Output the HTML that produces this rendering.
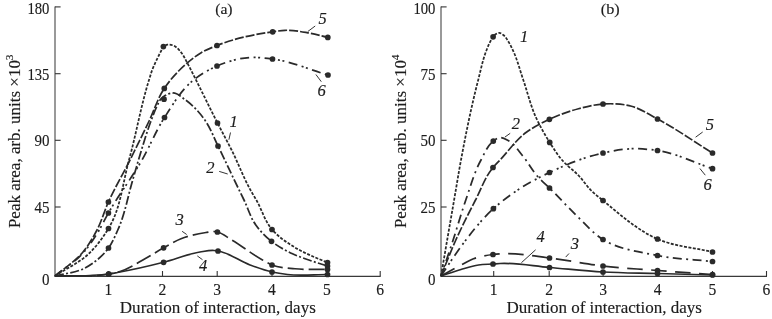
<!DOCTYPE html>
<html><head><meta charset="utf-8"><title>Figure</title>
<style>
html,body{margin:0;padding:0;background:#fff;}
svg{display:block}
text{font-family:"Liberation Serif","DejaVu Serif",serif;fill:#1c1c1c;stroke:#1c1c1c;stroke-width:0.15px;}
.t{font-size:16.7px}
.l{font-size:16.6px}
.p{font-size:15.2px}
.i{font-size:16.5px;font-style:italic}
</style></head><body>
<svg width="772" height="319" viewBox="0 0 772 319">
<rect width="772" height="319" fill="#fff"/>
<line x1="55" y1="6.6" x2="55" y2="276.8" stroke="#777" stroke-width="1.5"/>
<line x1="54.5" y1="276.3" x2="380.7" y2="276.3" stroke="#3a3a3a" stroke-width="1.25"/>
<line x1="55" y1="6.9" x2="60.6" y2="6.9" stroke="#333" stroke-width="1.1"/>
<line x1="55" y1="73.7" x2="60.6" y2="73.7" stroke="#333" stroke-width="1.1"/>
<line x1="55" y1="140.3" x2="60.6" y2="140.3" stroke="#333" stroke-width="1.1"/>
<line x1="55" y1="207.0" x2="60.6" y2="207.0" stroke="#333" stroke-width="1.1"/>
<line x1="108.4" y1="271" x2="108.4" y2="276.3" stroke="#333" stroke-width="1.1"/>
<line x1="162.5" y1="271" x2="162.5" y2="276.3" stroke="#333" stroke-width="1.1"/>
<line x1="217.2" y1="271" x2="217.2" y2="276.3" stroke="#333" stroke-width="1.1"/>
<line x1="272" y1="271" x2="272" y2="276.3" stroke="#333" stroke-width="1.1"/>
<line x1="326.8" y1="271" x2="326.8" y2="276.3" stroke="#333" stroke-width="1.1"/>
<line x1="380.2" y1="271" x2="380.2" y2="276.3" stroke="#333" stroke-width="1.1"/>
<text x="49.4" y="14.0" text-anchor="end" class="t" textLength="22.0" lengthAdjust="spacingAndGlyphs">180</text>
<text x="49.4" y="79.5" text-anchor="end" class="t" textLength="22.0" lengthAdjust="spacingAndGlyphs">135</text>
<text x="49.4" y="146.10000000000002" text-anchor="end" class="t" textLength="15.0" lengthAdjust="spacingAndGlyphs">90</text>
<text x="49.4" y="212.8" text-anchor="end" class="t" textLength="15.0" lengthAdjust="spacingAndGlyphs">45</text>
<text x="49.4" y="285.0" text-anchor="end" class="t" textLength="7.5" lengthAdjust="spacingAndGlyphs">0</text>
<text x="108.4" y="295.4" text-anchor="middle" class="t" textLength="7.8" lengthAdjust="spacingAndGlyphs">1</text>
<text x="162.5" y="295.4" text-anchor="middle" class="t" textLength="7.8" lengthAdjust="spacingAndGlyphs">2</text>
<text x="217.2" y="295.4" text-anchor="middle" class="t" textLength="7.8" lengthAdjust="spacingAndGlyphs">3</text>
<text x="272" y="295.4" text-anchor="middle" class="t" textLength="7.8" lengthAdjust="spacingAndGlyphs">4</text>
<text x="326.8" y="295.4" text-anchor="middle" class="t" textLength="7.8" lengthAdjust="spacingAndGlyphs">5</text>
<text x="380.2" y="295.4" text-anchor="middle" class="t" textLength="7.8" lengthAdjust="spacingAndGlyphs">6</text>
<text x="119.8" y="313.3" class="l" textLength="196.0" lengthAdjust="spacingAndGlyphs">Duration of interaction, days</text>
<text transform="translate(19.700000000000003,228.1) rotate(-90)" class="l" textLength="173.6" lengthAdjust="spacingAndGlyphs">Peak area, arb. units ×10<tspan dy="-7" font-size="11">3</tspan></text>
<path d="M55.00,276.00 C66.33,268.50 79.34,262.81 89.00,253.50 C96.51,246.26 103.07,237.38 108.50,228.50 C120.75,208.47 122.66,182.97 129.00,160.00 C136.32,133.51 140.82,106.23 149.00,80.00 C150.04,76.66 150.98,73.27 152.20,70.00 C154.05,65.03 156.45,60.26 158.80,55.50 C160.28,52.51 161.87,49.57 163.40,46.60 C164.77,45.97 166.07,44.96 167.50,44.70 C169.15,44.40 171.09,44.81 172.70,45.30 C176.42,46.43 179.32,50.18 181.80,53.30 C183.95,56.00 185.32,59.34 187.00,62.40 C190.18,68.17 193.02,74.13 196.00,80.00 C203.26,94.29 210.18,108.75 217.50,123.00 C222.14,132.03 227.04,140.93 231.60,150.00 C238.39,163.51 243.55,177.85 251.00,191.00 C252.71,194.03 254.56,196.98 256.30,200.00 C261.85,209.65 264.88,221.25 272.00,229.50 C278.22,236.71 286.71,242.49 295.00,247.50 C300.55,250.86 306.56,253.56 312.50,256.25 C317.43,258.49 322.50,260.42 327.50,262.50" fill="none" stroke="#2a2a2a" stroke-width="1.75" stroke-dasharray="3 1.5"/>
<path d="M55.00,276.00 C65.00,273.33 76.06,272.69 85.00,268.00 C93.88,263.34 102.55,256.16 108.50,248.00 C112.41,242.64 115.03,236.13 117.80,230.00 C124.94,214.21 127.82,196.69 132.70,180.00 C134.65,173.34 136.50,166.65 138.50,160.00 C142.43,146.93 146.19,133.77 151.00,121.00 C152.90,115.96 154.59,110.81 157.00,106.00 C158.23,103.55 159.17,100.78 161.00,98.80 C162.26,97.43 163.87,96.21 165.50,95.30 C167.77,94.03 170.65,93.01 173.10,93.00 C177.22,92.99 181.16,96.90 184.80,99.40 C189.54,102.65 193.83,106.73 197.70,111.00 C200.53,114.12 203.12,117.53 205.50,121.00 C210.74,128.65 213.88,137.64 218.00,146.00 C225.35,160.92 232.31,176.04 239.60,191.00 C241.06,194.00 242.54,196.99 244.00,200.00 C248.02,208.29 250.51,217.60 255.80,225.00 C260.13,231.06 265.66,236.63 271.50,241.30 C277.80,246.34 285.17,250.29 292.50,253.75 C298.91,256.78 305.76,258.95 312.50,261.25 C317.46,262.94 322.50,264.42 327.50,266.00" fill="none" stroke="#2a2a2a" stroke-width="1.75" stroke-dasharray="9 2.3 2 2.3"/>
<path d="M55.00,276.00 C64.33,268.00 75.27,261.39 83.00,252.00 C88.47,245.36 92.98,237.67 97.00,230.00 C101.66,221.11 104.28,211.19 108.40,202.00 C114.83,187.65 122.94,174.07 130.00,160.00 C136.49,147.06 142.87,134.07 149.10,121.00 C154.26,110.18 157.67,98.28 164.30,88.40 C168.45,82.21 173.35,76.34 178.60,71.00 C181.27,68.28 184.09,65.67 187.00,63.20 C191.48,59.39 196.15,55.67 201.20,52.70 C206.16,49.78 211.65,47.66 217.00,45.50 C234.67,38.35 253.79,34.51 272.70,31.80 C276.78,31.21 280.90,30.47 285.00,30.30 C292.59,29.99 300.28,31.50 307.80,32.80 C314.53,33.96 321.13,35.87 327.80,37.40" fill="none" stroke="#2a2a2a" stroke-width="1.7" stroke-dasharray="9 2"/>
<path d="M55.00,276.00 C64.67,268.00 75.83,261.38 84.00,252.00 C89.30,245.91 93.74,238.92 98.00,232.00 C101.78,225.86 104.83,219.27 108.40,213.00 C118.74,194.83 131.60,178.13 142.00,160.00 C149.97,146.11 155.84,130.92 164.50,117.50 C173.04,104.27 181.35,89.70 193.50,80.00 C200.51,74.40 208.72,69.60 217.00,66.00 C227.31,61.51 238.80,58.17 250.00,57.50 C257.41,57.05 265.08,58.06 272.50,59.00 C291.51,61.42 309.50,69.67 328.00,75.00" fill="none" stroke="#2a2a2a" stroke-width="1.75" stroke-dasharray="9 4.5 2 2.5 2 4.5"/>
<path d="M55.00,276.00 C72.90,275.33 91.14,277.30 108.70,274.00 C112.48,273.29 116.33,272.60 120.00,271.50 C128.90,268.83 136.82,263.28 145.00,258.75 C151.29,255.27 157.30,251.28 163.60,247.80 C169.32,244.64 174.97,241.15 181.00,238.75 C188.93,235.60 197.52,233.81 206.00,232.50 C208.65,232.09 211.34,231.33 214.00,231.50 C215.13,231.57 216.29,231.76 217.40,232.00 C222.42,233.07 226.52,236.91 231.00,239.50 C241.83,245.78 251.54,253.94 262.50,260.00 C265.63,261.73 268.72,263.68 272.00,265.00 C279.12,267.87 287.29,267.95 295.00,268.75 C305.75,269.87 316.67,269.25 327.50,269.50" fill="none" stroke="#2a2a2a" stroke-width="1.7" stroke-dasharray="16 5"/>
<path d="M55.00,276.00 C66.67,275.83 78.36,276.17 90.00,275.50 C96.24,275.14 102.51,274.87 108.70,274.00 C111.64,273.58 114.57,273.02 117.50,272.50 C132.99,269.74 148.36,266.19 163.60,262.30 C175.81,259.18 187.57,253.91 200.00,252.00 C204.63,251.29 209.34,250.16 214.00,250.50 C215.33,250.60 216.68,250.79 218.00,251.00 C229.46,252.78 239.08,261.02 250.00,265.00 C257.22,267.63 264.51,270.33 272.00,272.00 C277.09,273.14 282.31,273.90 287.50,274.50 C300.71,276.02 314.17,274.50 327.50,274.50" fill="none" stroke="#2a2a2a" stroke-width="1.7"/>
<circle cx="108.5" cy="228.5" r="2.85" fill="#2a2a2a"/>
<circle cx="163.4" cy="46.6" r="2.85" fill="#2a2a2a"/>
<circle cx="217.5" cy="123.0" r="2.85" fill="#2a2a2a"/>
<circle cx="272.0" cy="229.5" r="2.85" fill="#2a2a2a"/>
<circle cx="327.5" cy="262.5" r="2.85" fill="#2a2a2a"/>
<circle cx="108.5" cy="248.0" r="2.85" fill="#2a2a2a"/>
<circle cx="164.0" cy="99.2" r="2.85" fill="#2a2a2a"/>
<circle cx="218.0" cy="146.0" r="2.85" fill="#2a2a2a"/>
<circle cx="271.5" cy="241.3" r="2.85" fill="#2a2a2a"/>
<circle cx="327.5" cy="266.0" r="2.85" fill="#2a2a2a"/>
<circle cx="108.4" cy="202.0" r="2.85" fill="#2a2a2a"/>
<circle cx="164.3" cy="88.4" r="2.85" fill="#2a2a2a"/>
<circle cx="217.0" cy="45.5" r="2.85" fill="#2a2a2a"/>
<circle cx="272.7" cy="31.8" r="2.85" fill="#2a2a2a"/>
<circle cx="327.8" cy="37.4" r="2.85" fill="#2a2a2a"/>
<circle cx="108.4" cy="213.0" r="2.85" fill="#2a2a2a"/>
<circle cx="164.5" cy="117.5" r="2.85" fill="#2a2a2a"/>
<circle cx="217.0" cy="66.0" r="2.85" fill="#2a2a2a"/>
<circle cx="272.5" cy="59.0" r="2.85" fill="#2a2a2a"/>
<circle cx="328.0" cy="75.0" r="2.85" fill="#2a2a2a"/>
<circle cx="108.7" cy="274.0" r="2.85" fill="#2a2a2a"/>
<circle cx="163.6" cy="247.8" r="2.85" fill="#2a2a2a"/>
<circle cx="217.4" cy="232.0" r="2.85" fill="#2a2a2a"/>
<circle cx="272.0" cy="265.0" r="2.85" fill="#2a2a2a"/>
<circle cx="327.5" cy="269.5" r="2.85" fill="#2a2a2a"/>
<circle cx="108.7" cy="274.0" r="2.85" fill="#2a2a2a"/>
<circle cx="163.6" cy="262.3" r="2.85" fill="#2a2a2a"/>
<circle cx="218.0" cy="251.0" r="2.85" fill="#2a2a2a"/>
<circle cx="272.0" cy="272.0" r="2.85" fill="#2a2a2a"/>
<circle cx="327.5" cy="274.5" r="2.85" fill="#2a2a2a"/>
<text x="223.9" y="13.8" text-anchor="middle" class="p" textLength="17.4" lengthAdjust="spacingAndGlyphs">(a)</text>
<text x="318.5" y="23.8" class="i">5</text>
<line x1="315.2" y1="26" x2="307.8" y2="31.5" stroke="#2a2a2a" stroke-width="0.95"/>
<text x="317.5" y="95.5" class="i">6</text>
<line x1="315.9" y1="74.5" x2="321.3" y2="81.7" stroke="#2a2a2a" stroke-width="0.95"/>
<text x="229.5" y="126.6" class="i">1</text>
<line x1="230.5" y1="132.5" x2="228.9" y2="139.7" stroke="#2a2a2a" stroke-width="0.95"/>
<text x="206.3" y="172.9" class="i">2</text>
<line x1="219.2" y1="171.4" x2="227.7" y2="174" stroke="#2a2a2a" stroke-width="0.95"/>
<text x="175.5" y="225.3" class="i">3</text>
<line x1="182.1" y1="231.3" x2="186.7" y2="234.5" stroke="#2a2a2a" stroke-width="0.95"/>
<text x="199" y="271" class="i">4</text>
<line x1="197.3" y1="255.9" x2="202.5" y2="259.7" stroke="#2a2a2a" stroke-width="0.95"/>
<line x1="441" y1="6.6" x2="441" y2="276.8" stroke="#777" stroke-width="1.5"/>
<line x1="440.5" y1="276.3" x2="767.0" y2="276.3" stroke="#3a3a3a" stroke-width="1.25"/>
<line x1="441" y1="6.9" x2="446.6" y2="6.9" stroke="#333" stroke-width="1.1"/>
<line x1="441" y1="73.7" x2="446.6" y2="73.7" stroke="#333" stroke-width="1.1"/>
<line x1="441" y1="140.3" x2="446.6" y2="140.3" stroke="#333" stroke-width="1.1"/>
<line x1="441" y1="207.0" x2="446.6" y2="207.0" stroke="#333" stroke-width="1.1"/>
<line x1="493.7" y1="271" x2="493.7" y2="276.3" stroke="#333" stroke-width="1.1"/>
<line x1="549.2" y1="271" x2="549.2" y2="276.3" stroke="#333" stroke-width="1.1"/>
<line x1="603.1" y1="271" x2="603.1" y2="276.3" stroke="#333" stroke-width="1.1"/>
<line x1="657.7" y1="271" x2="657.7" y2="276.3" stroke="#333" stroke-width="1.1"/>
<line x1="712.5" y1="271" x2="712.5" y2="276.3" stroke="#333" stroke-width="1.1"/>
<line x1="766.5" y1="271" x2="766.5" y2="276.3" stroke="#333" stroke-width="1.1"/>
<text x="435.4" y="14.0" text-anchor="end" class="t" textLength="22.0" lengthAdjust="spacingAndGlyphs">100</text>
<text x="435.4" y="79.5" text-anchor="end" class="t" textLength="15.0" lengthAdjust="spacingAndGlyphs">75</text>
<text x="435.4" y="146.10000000000002" text-anchor="end" class="t" textLength="15.0" lengthAdjust="spacingAndGlyphs">50</text>
<text x="435.4" y="212.8" text-anchor="end" class="t" textLength="15.0" lengthAdjust="spacingAndGlyphs">25</text>
<text x="435.4" y="285.0" text-anchor="end" class="t" textLength="7.5" lengthAdjust="spacingAndGlyphs">0</text>
<text x="493.7" y="295.4" text-anchor="middle" class="t" textLength="7.8" lengthAdjust="spacingAndGlyphs">1</text>
<text x="549.2" y="295.4" text-anchor="middle" class="t" textLength="7.8" lengthAdjust="spacingAndGlyphs">2</text>
<text x="603.1" y="295.4" text-anchor="middle" class="t" textLength="7.8" lengthAdjust="spacingAndGlyphs">3</text>
<text x="657.7" y="295.4" text-anchor="middle" class="t" textLength="7.8" lengthAdjust="spacingAndGlyphs">4</text>
<text x="712.5" y="295.4" text-anchor="middle" class="t" textLength="7.8" lengthAdjust="spacingAndGlyphs">5</text>
<text x="766.5" y="295.4" text-anchor="middle" class="t" textLength="7.8" lengthAdjust="spacingAndGlyphs">6</text>
<text x="506.5" y="313.3" class="l" textLength="195.5" lengthAdjust="spacingAndGlyphs">Duration of interaction, days</text>
<text transform="translate(405.7,228.1) rotate(-90)" class="l" textLength="173.6" lengthAdjust="spacingAndGlyphs">Peak area, arb. units ×10<tspan dy="-7" font-size="11">4</tspan></text>
<path d="M441.00,276.00 C443.00,264.33 444.99,252.67 447.00,241.00 C449.35,227.33 451.74,213.67 454.10,200.00 C456.40,186.67 458.52,173.30 461.00,160.00 C466.00,133.19 471.36,106.39 478.20,80.00 C480.72,70.30 482.56,60.33 486.20,51.00 C487.25,48.30 488.31,45.59 489.60,43.00 C490.66,40.88 491.59,38.60 493.10,36.80 C493.96,35.78 494.87,34.66 496.00,34.00 C496.98,33.43 498.23,32.89 499.30,32.90 C500.84,32.92 502.41,34.30 503.70,35.30 C505.97,37.05 507.37,39.91 508.90,42.40 C510.35,44.76 511.51,47.30 512.70,49.80 C517.30,59.41 519.82,69.92 523.30,80.00 C527.61,92.47 530.53,105.55 536.00,117.50 C539.93,126.08 544.64,134.40 549.70,142.40 C553.52,148.44 557.37,154.59 562.00,160.00 C567.04,165.88 573.70,170.32 579.00,176.00 C583.31,180.61 586.72,186.08 591.20,190.50 C594.86,194.11 599.01,197.23 603.00,200.50 C620.19,214.59 637.45,230.34 657.50,239.00 C674.48,246.33 694.17,247.67 712.50,252.00" fill="none" stroke="#2a2a2a" stroke-width="1.75" stroke-dasharray="3 1.5"/>
<path d="M441.00,276.00 C444.93,264.33 448.96,252.70 452.80,241.00 C457.27,227.38 461.09,213.53 465.80,200.00 C470.49,186.54 474.16,172.43 481.00,160.00 C484.61,153.45 487.38,145.51 493.30,141.10 C495.04,139.80 497.02,138.11 499.00,137.70 C501.98,137.08 505.63,139.22 508.50,140.70 C514.16,143.61 517.76,150.02 522.00,155.00 C528.02,162.07 532.21,170.70 538.50,177.50 C541.93,181.21 545.87,184.47 549.50,188.00 C558.54,196.79 566.91,206.27 576.00,215.00 C584.76,223.42 592.96,233.19 603.00,239.50 C618.64,249.33 639.00,251.83 657.50,255.50 C675.52,259.08 694.17,259.50 712.50,261.50" fill="none" stroke="#2a2a2a" stroke-width="1.75" stroke-dasharray="9 4.4 2 4.4" stroke-dashoffset="4"/>
<path d="M441.00,276.00 C445.80,264.33 450.26,252.51 455.40,241.00 C461.60,227.11 468.51,213.52 475.50,200.00 C481.15,189.07 485.16,176.89 493.00,167.50 C495.18,164.89 497.66,162.50 500.00,160.00 C508.62,150.79 515.98,139.93 526.00,132.50 C533.12,127.23 541.31,123.07 549.40,119.30 C558.72,114.95 568.56,111.41 578.50,108.75 C586.51,106.61 594.77,104.54 603.00,104.00 C612.42,103.38 622.47,103.79 631.50,106.25 C640.65,108.74 648.97,114.49 657.50,119.00 C676.54,129.06 694.17,141.67 712.50,153.00" fill="none" stroke="#2a2a2a" stroke-width="1.7" stroke-dasharray="9 2"/>
<path d="M441.00,276.00 C445.57,269.17 450.00,262.24 454.70,255.50 C458.10,250.62 461.50,245.73 465.10,241.00 C473.76,229.62 482.85,218.27 493.40,208.70 C501.16,201.65 509.72,195.27 518.50,189.50 C528.32,183.04 538.88,177.54 549.50,172.50 C566.60,164.38 584.54,157.04 603.00,153.00 C612.34,150.95 621.96,149.08 631.50,148.75 C640.13,148.45 648.96,149.25 657.50,150.50 C676.48,153.28 694.17,162.63 712.50,168.70" fill="none" stroke="#2a2a2a" stroke-width="1.75" stroke-dasharray="9 4.5 2 2.5 2 4.5"/>
<path d="M441.00,276.00 C447.67,272.33 454.25,268.50 461.00,265.00 C465.13,262.86 469.17,260.38 473.50,258.75 C479.68,256.42 486.41,255.30 493.00,254.50 C496.48,254.08 500.00,253.89 503.50,253.75 C518.85,253.12 534.21,256.19 549.50,258.00 C567.40,260.12 585.10,263.92 603.00,266.00 C621.10,268.10 639.33,269.09 657.50,270.50 C675.83,271.92 694.17,273.17 712.50,274.50" fill="none" stroke="#2a2a2a" stroke-width="1.7" stroke-dasharray="15.5 8.5"/>
<path d="M441.00,276.00 C447.67,273.83 454.27,271.44 461.00,269.50 C466.78,267.83 472.57,265.90 478.50,265.00 C483.27,264.28 488.17,264.34 493.00,264.00 C495.33,263.84 497.67,263.62 500.00,263.50 C516.51,262.63 533.00,266.14 549.50,267.50 C567.34,268.97 585.14,271.00 603.00,272.00 C621.14,273.02 639.33,273.00 657.50,273.50 C675.83,274.00 694.17,274.50 712.50,275.00" fill="none" stroke="#2a2a2a" stroke-width="1.7"/>
<circle cx="493.1" cy="36.8" r="2.85" fill="#2a2a2a"/>
<circle cx="549.7" cy="142.4" r="2.85" fill="#2a2a2a"/>
<circle cx="603.0" cy="200.5" r="2.85" fill="#2a2a2a"/>
<circle cx="657.5" cy="239.0" r="2.85" fill="#2a2a2a"/>
<circle cx="712.5" cy="252.0" r="2.85" fill="#2a2a2a"/>
<circle cx="493.3" cy="141.1" r="2.85" fill="#2a2a2a"/>
<circle cx="549.5" cy="188.0" r="2.85" fill="#2a2a2a"/>
<circle cx="603.0" cy="239.5" r="2.85" fill="#2a2a2a"/>
<circle cx="657.5" cy="255.5" r="2.85" fill="#2a2a2a"/>
<circle cx="712.5" cy="261.5" r="2.85" fill="#2a2a2a"/>
<circle cx="493.0" cy="167.5" r="2.85" fill="#2a2a2a"/>
<circle cx="549.4" cy="119.3" r="2.85" fill="#2a2a2a"/>
<circle cx="603.0" cy="104.0" r="2.85" fill="#2a2a2a"/>
<circle cx="657.5" cy="119.0" r="2.85" fill="#2a2a2a"/>
<circle cx="712.5" cy="153.0" r="2.85" fill="#2a2a2a"/>
<circle cx="493.4" cy="208.7" r="2.85" fill="#2a2a2a"/>
<circle cx="549.5" cy="172.5" r="2.85" fill="#2a2a2a"/>
<circle cx="603.0" cy="153.0" r="2.85" fill="#2a2a2a"/>
<circle cx="657.5" cy="150.5" r="2.85" fill="#2a2a2a"/>
<circle cx="712.5" cy="168.7" r="2.85" fill="#2a2a2a"/>
<circle cx="493.0" cy="254.5" r="2.85" fill="#2a2a2a"/>
<circle cx="549.5" cy="258.0" r="2.85" fill="#2a2a2a"/>
<circle cx="603.0" cy="266.0" r="2.85" fill="#2a2a2a"/>
<circle cx="657.5" cy="270.5" r="2.85" fill="#2a2a2a"/>
<circle cx="712.5" cy="274.5" r="2.85" fill="#2a2a2a"/>
<circle cx="493.0" cy="264.0" r="2.85" fill="#2a2a2a"/>
<circle cx="549.5" cy="267.5" r="2.85" fill="#2a2a2a"/>
<circle cx="603.0" cy="272.0" r="2.85" fill="#2a2a2a"/>
<circle cx="657.5" cy="273.5" r="2.85" fill="#2a2a2a"/>
<circle cx="712.5" cy="275.0" r="2.85" fill="#2a2a2a"/>
<text x="610.3" y="13.6" text-anchor="middle" class="p" textLength="18.9" lengthAdjust="spacingAndGlyphs">(b)</text>
<text x="520" y="42.4" class="i">1</text>
<text x="511.8" y="128.8" class="i">2</text>
<line x1="510.2" y1="133.3" x2="505" y2="137" stroke="#2a2a2a" stroke-width="0.95"/>
<text x="570.7" y="248.7" class="i">3</text>
<line x1="569" y1="253.5" x2="565.7" y2="257.1" stroke="#2a2a2a" stroke-width="0.95"/>
<text x="536.6" y="242.2" class="i">4</text>
<line x1="535.6" y1="249.8" x2="521.4" y2="262.7" stroke="#2a2a2a" stroke-width="0.95"/>
<text x="705.7" y="130.3" class="i">5</text>
<line x1="702.7" y1="132" x2="695.6" y2="137.2" stroke="#2a2a2a" stroke-width="0.95"/>
<text x="703.5" y="189.9" class="i">6</text>
<line x1="699.9" y1="168.5" x2="705.3" y2="175.2" stroke="#2a2a2a" stroke-width="0.95"/>
</svg>
</body></html>
